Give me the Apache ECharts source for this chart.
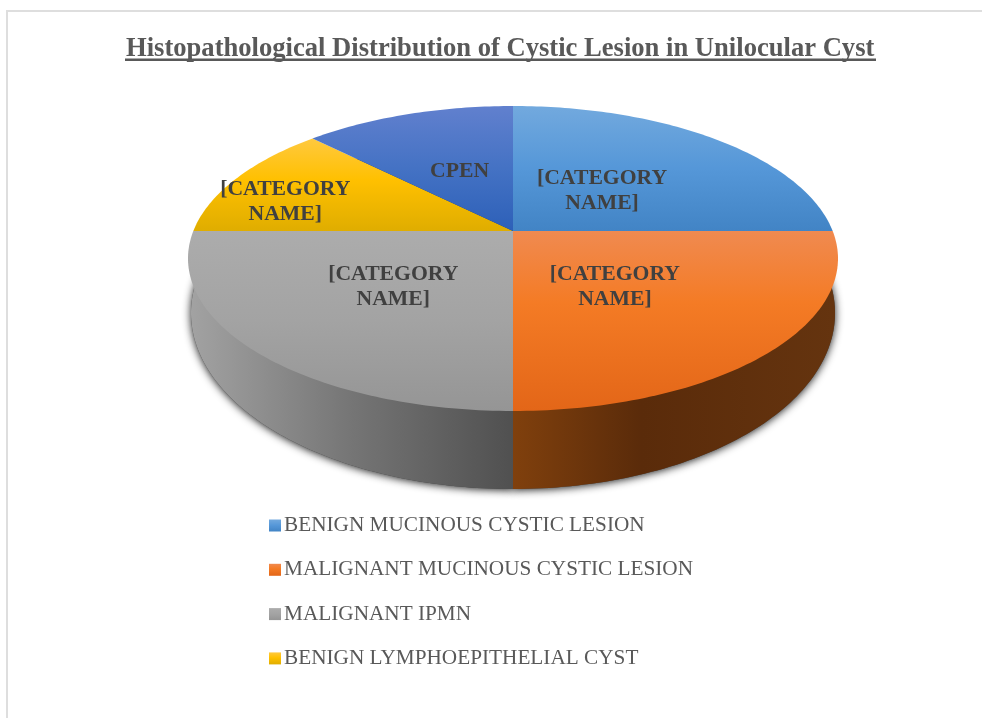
<!DOCTYPE html>
<html>
<head>
<meta charset="utf-8">
<style>html,body{margin:0;padding:0;background:#fff}#c{width:982px;height:718px}</style>
<script src="https://cdn.jsdelivr.net/npm/echarts@6/dist/echarts.min.js"></script>
</head>
<body>
<div id="c"></div>
<script>
const titleText = 'Histopathological Distribution of Cystic Lesion in Unilocular Cyst';
const categories = ['BENIGN MUCINOUS CYSTIC LESION', 'MALIGNANT MUCINOUS CYSTIC LESION', 'MALIGNANT IPMN', 'BENIGN LYMPHOEPITHELIAL CYST', 'CPEN'];
const values = [2, 2, 2, 1, 1];
const sliceLabels = ['[CATEGORY\nNAME]', '[CATEGORY\nNAME]', '[CATEGORY\nNAME]', '[CATEGORY\nNAME]', 'CPEN'];
const legendNames = categories.slice(0, 4);

const SERIF = '"Liberation Serif","Times New Roman",serif';
const vgrad = stops => ({type:'linear',x:0,y:0,x2:0,y2:1,colorStops:stops.map((c,i)=>({offset:c[0],color:c[1]}))});
const hgrad = stops => ({type:'linear',x:0,y:0,x2:1,y2:0,colorStops:stops.map((c,i)=>({offset:c[0],color:c[1]}))});
const topFills = [
  vgrad([[0,'#72A9DE'],[0.5,'#5597D8'],[1,'#4284C5']]),
  vgrad([[0,'#F08A50'],[0.4,'#F47B25'],[1,'#E36618']]),
  vgrad([[0,'#ACACAC'],[0.5,'#A3A3A3'],[1,'#959595']]),
  vgrad([[0,'#FFC93F'],[0.45,'#FFC000'],[1,'#DFAD00']]),
  vgrad([[0,'#6180CE'],[0.5,'#4472C4'],[1,'#2D60B8']])
];
const wallFills = [
  hgrad([[0,'#2A5278'],[1,'#2A5278']]),
  hgrad([[0,'#80400D'],[0.4,'#5A2B0A'],[1,'#65340F']]),
  hgrad([[0,'#A2A2A2'],[0.5,'#757575'],[1,'#505050']]),
  hgrad([[0,'#7F6000'],[1,'#7F6000']]),
  hgrad([[0,'#203864'],[1,'#203864']])
];
// tilted disc: ellipse outline (cx, ey, rx, ry) with the pie centre drawn at height apexY
const TOP = {cx:513, ey:258.5, rx:325, ry:152.5, apexY:231};
const BASE = {cx:513, ey:313, rx:322, ry:176, apexY:270};
function projector(e){
  const T = e.ey - e.ry, B = e.ey + e.ry, b = e.apexY;
  const c = (2*b - T - B) / (T - B), a = T + T*c - b;
  const hw = e.rx * Math.sqrt(1 - Math.pow((b - e.ey)/e.ry, 2));
  return (theta, r) => {
    const u = Math.sin(theta)*r, v = Math.cos(theta)*r, w = c*v + 1;
    return [e.cx + hw*u/w, (a*v + b)/w];
  };
}
const projTop = projector(TOP), projBase = projector(BASE);
function wedge(proj, a0, a1){
  const n = Math.max(2, Math.ceil((a1-a0)/(Math.PI/180)));
  const pts = [proj(0,0)];
  for(let i=0;i<=n;i++) pts.push(proj(a0+(a1-a0)*i/n,1));
  return pts;
}
const total = values.reduce((s,v)=>s+v,0);
const labelRadius = [0.41,0.46,0.50,0.77,0.48];
const labelTurn = [0,5,0,-7,0];

function renderSlice(params, api){
  const idx = params.seriesIndex;
  const before = values.slice(0, idx).reduce((s,v)=>s+v,0);
  const a0 = before/total*2*Math.PI, a1 = (before+api.value(0))/total*2*Math.PI;
  const wallPts = wedge(projBase,a0,a1), topPts = wedge(projTop,a0,a1);
  const mid = (a0+a1)/2 + labelTurn[idx]*Math.PI/180;
  const lp = projTop(mid, labelRadius[idx]);
  return {type:'group', children:[
    {type:'polygon', z2:0, silent:true, shape:{points:wallPts},
      style:{fill:'#444', shadowBlur:8, shadowColor:'rgba(0,0,0,0.9)', shadowOffsetY:1}},
    {type:'polygon', z2:1, silent:true, shape:{points:wallPts}, style:{fill:wallFills[idx]}},
    {type:'polygon', z2:2, silent:true, shape:{points:topPts}, style:{fill:topFills[idx]}},
    {type:'text', z2:3, silent:true, style:{text:sliceLabels[idx], x:lp[0]+1, y:lp[1]+0.5, align:'center', verticalAlign:'middle',
      fill:'#404040', font:'bold 21.7px '+SERIF, lineHeight:25}}
  ]};
}

const chart = echarts.init(document.getElementById('c'), null, {renderer:'canvas'});
chart.setOption({
  animation:false,
  backgroundColor:'#fff',
  title:{text:titleText, left:126, top:35.5, itemGap:0, padding:0,
    textStyle:{fontFamily:SERIF, fontWeight:'bold', fontSize:26.6, color:'#595959'}},
  legend:{data:legendNames, orient:'vertical', left:269, top:513.5, icon:'rect', itemWidth:12, itemHeight:12, itemGap:20.3,
    selectedMode:false, padding:0,
    textStyle:{fontFamily:SERIF, fontSize:21.25, color:'#595959', lineHeight:24, padding:[0,0,0,-2]}},
  graphic:[
    {type:'rect', z:10, shape:{x:125,y:58.5,width:751,height:2.5}, style:{fill:'#595959'}},
    {type:'rect', z:10, shape:{x:6,y:10,width:976,height:2}, style:{fill:'#DEDEDE'}},
    {type:'rect', z:10, shape:{x:6,y:10,width:2,height:708}, style:{fill:'#DEDEDE'}}
  ],
  series:categories.map((name,i)=>({
    type:'custom', name, coordinateSystem:'none', renderItem:renderSlice,
    itemStyle:{color:topFills[i]}, data:[{name, value:values[i]}]
  }))
});
</script>
</body>
</html>
